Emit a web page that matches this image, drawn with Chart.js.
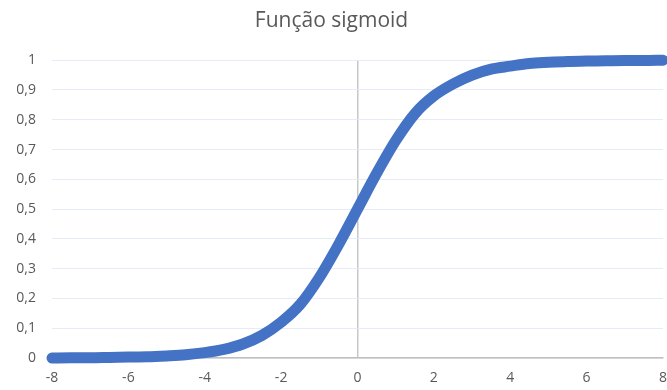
<!DOCTYPE html>
<html>
<head>
<meta charset="utf-8">
<script src="https://cdn.jsdelivr.net/npm/chart.js@4/dist/chart.umd.min.js"></script>
<style>
  html, body { margin: 0; padding: 0; background: #fff; }
  #wrap { width: 667px; height: 390px; }
</style>
</head>
<body>
<div id="wrap"><canvas id="sigmoidChart"></canvas></div>
<script>
// values
var xValues = [-8, -7.5, -7, -6.5, -6, -5.5, -5, -4.5, -4, -3.5, -3, -2.5, -2, -1.5, -1, -0.5,
    0, 0.5, 1, 1.5, 2, 2.5, 3, 3.5, 4, 4.5, 5, 5.5, 6, 6.5, 7, 7.5, 8];
var yValues = [0.000, 0.001, 0.001, 0.002, 0.003, 0.004, 0.007, 0.011, 0.018, 0.029, 0.047, 0.076, 0.12, 0.18, 0.27, 0.38,
    0.5, 0.62, 0.73, 0.82, 0.88, 0.92, 0.95, 0.97, 0.98, 0.989, 0.993, 0.996, 0.997, 0.998, 0.999, 0.999, 1.0];
var xTicks = [-8, -6, -4, -2, 0, 2, 4, 6, 8];
var yTicks = [0, 0.1, 0.2, 0.3, 0.4, 0.5, 0.6, 0.7, 0.8, 0.9, 1];

var points = [];
for (var i = 0; i < xValues.length; i++) {
    points.push({ x: xValues[i], y: yValues[i] });
}

var textColor = '#595959';

new Chart(document.getElementById('sigmoidChart').getContext('2d'), {
    type: 'line',
    data: {
        datasets: [{
            label: 'sigmoid',
            data: points,
            borderColor: '#4472C4',
            borderWidth: 11,
            borderCapStyle: 'round',
            borderJoinStyle: 'round',
            pointRadius: 0,
            cubicInterpolationMode: 'monotone',
            clip: false,
            fill: false
        }]
    },
    options: {
        responsive: true,
        maintainAspectRatio: false,
        animation: false,
        layout: { padding: { left: 0, right: 4, top: 0, bottom: 0 } },
        plugins: {
            legend: { display: false },
            tooltip: { enabled: false },
            title: {
                display: true,
                text: 'Função sigmoid',
                color: textColor,
                font: { family: 'Open Sans', size: 21, weight: 'normal' },
                padding: { top: 8, bottom: 27 }
            }
        },
        scales: {
            x: {
                type: 'linear',
                min: -8,
                max: 8,
                afterBuildTicks: function (scale) {
                    scale.ticks = xTicks.map(function (v) { return { value: v }; });
                },
                afterFit: function (scale) {
                    scale.height = 32;
                    scale.paddingRight = 0;
                    scale.paddingLeft = 0;
                },
                ticks: {
                    color: textColor,
                    font: { family: 'Open Sans', size: 14 },
                    padding: 12,
                    maxRotation: 0
                },
                grid: {
                    color: function (ctx) { return ctx.tick && ctx.tick.value === 0 ? '#c8c8c8' : 'rgba(0,0,0,0)'; },
                    lineWidth: 1.5,
                    drawTicks: false
                },
                border: { display: true, color: '#bfbfbf', width: 1.5 }
            },
            y: {
                min: 0,
                max: 1,
                afterBuildTicks: function (scale) {
                    scale.ticks = yTicks.map(function (v) { return { value: v }; });
                },
                afterFit: function (scale) { scale.width = 52; },
                ticks: {
                    color: textColor,
                    font: { family: 'Open Sans', size: 14 },
                    padding: 16,
                    callback: function (v) { return String(Math.round(v * 10) / 10).replace('.', ','); }
                },
                grid: {
                    color: '#e6ecf5',
                    lineWidth: 1,
                    drawTicks: false
                },
                border: { display: false }
            }
        }
    }
});
</script>
</body>
</html>
